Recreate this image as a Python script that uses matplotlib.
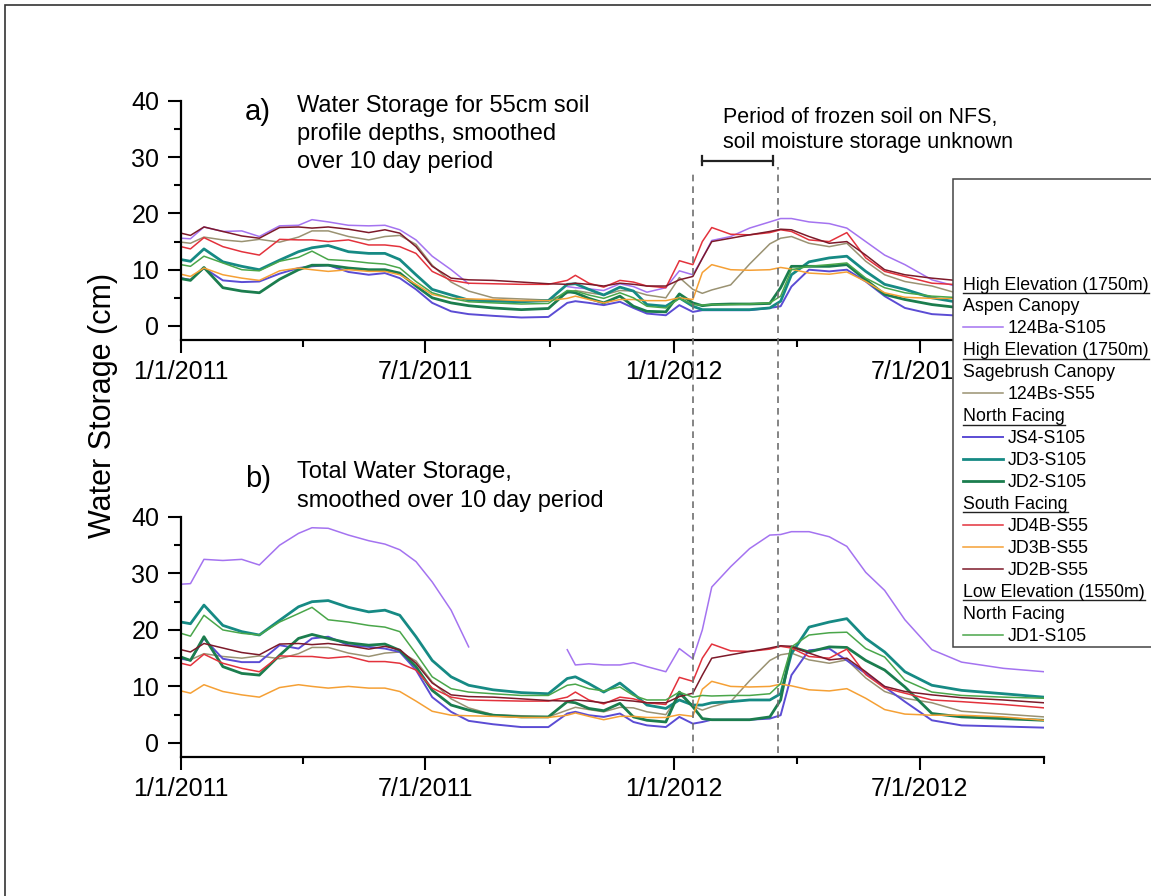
import numpy as np
import pandas as pd
import matplotlib
matplotlib.use('Agg')
import matplotlib.pyplot as plt
import matplotlib.dates as mdates
import matplotlib.transforms as mtransforms
from matplotlib.lines import Line2D
from matplotlib.patches import Rectangle

plt.rcParams['font.family'] = ['Liberation Sans', 'DejaVu Sans']

# ---- data (10 day smoothed storage in cm) ----
dates = pd.to_datetime([
    '2011-01-01', '2011-01-08', '2011-01-18', '2011-02-01', '2011-02-15', '2011-02-28',
    '2011-03-15', '2011-03-29', '2011-04-08', '2011-04-20', '2011-05-05', '2011-05-20',
    '2011-06-01', '2011-06-12', '2011-06-24', '2011-07-06', '2011-07-20', '2011-08-02',
    '2011-08-20', '2011-09-10', '2011-09-30', '2011-10-14', '2011-10-20', '2011-10-30',
    '2011-11-10', '2011-11-22', '2011-12-02', '2011-12-12', '2011-12-26', '2012-01-05',
    '2012-01-15', '2012-01-22', '2012-01-29', '2012-02-12', '2012-02-26', '2012-03-12',
    '2012-03-20', '2012-03-28', '2012-04-10', '2012-04-25', '2012-05-08', '2012-05-22',
    '2012-06-05', '2012-06-20', '2012-07-10', '2012-08-01', '2012-09-01', '2012-10-01'])
nan = np.nan

# 55 cm sensors: identical in both panels
jd4b_s55 = [14.1, 13.7, 15.7, 14.1, 13.2, 12.6, 15.4, 15.3, 15.3, 15.0, 15.3, 14.4,
            14.4, 14.1, 12.9, 9.7, 8.1, 7.6, 7.5, 7.4, 7.4, 8.1, 9.0, 7.6,
            6.9, 8.1, 7.8, 7.1, 6.8, 11.6, 10.9, 15.0, 17.5, 16.3, 16.2, 16.6,
            17.1, 16.8, 15.3, 15.0, 16.6, 12.1, 9.7, 8.8, 7.6, 7.3, 6.8, 6.2]
jd3b_s55 = [9.2, 8.8, 10.3, 9.1, 8.5, 8.1, 9.8, 10.3, 10.0, 9.7, 10.0, 9.7,
            9.7, 9.1, 7.4, 5.6, 4.9, 4.8, 4.7, 4.5, 4.5, 4.9, 5.3, 4.7,
            4.1, 4.7, 4.7, 4.5, 4.5, 5.0, 4.7, 9.5, 10.9, 10.0, 9.9, 10.0,
            10.4, 10.1, 9.4, 9.2, 9.6, 7.9, 5.9, 5.1, 4.9, 4.9, 4.6, 4.0]
jd2b_s55 = [16.5, 16.1, 17.6, 16.8, 16.0, 15.6, 17.5, 17.6, 17.4, 17.6, 17.2, 16.6,
            17.1, 16.5, 14.1, 10.6, 8.5, 8.2, 8.1, 7.8, 7.5, 7.4, 7.6, 7.4,
            7.1, 7.6, 7.4, 7.1, 7.1, 8.2, 8.8, 12.0, 15.0, 15.6, 16.2, 16.8,
            17.2, 17.1, 15.9, 14.7, 15.0, 12.6, 10.0, 9.1, 8.5, 8.0, 7.6, 7.1]
b124bs_s55 = [14.9, 14.7, 15.8, 15.3, 15.0, 15.4, 14.9, 15.8, 16.9, 16.9, 15.9, 15.3,
              15.9, 16.1, 14.5, 10.8, 7.8, 6.2, 5.0, 4.8, 4.6, 5.8, 6.3, 5.9,
              5.5, 6.3, 6.2, 5.5, 5.0, 8.6, 6.5, 5.8, 6.4, 7.3, 11.0, 14.6,
              15.6, 15.9, 14.7, 14.1, 14.7, 11.5, 9.1, 7.9, 7.1, 5.6, 5.1, 4.6]

# panel a) 105 cm sensors, 55cm profile depth
a_124ba = [15.6, 15.5, 17.6, 16.8, 16.9, 15.9, 17.8, 17.9, 18.9, 18.5, 17.9, 17.8,
           17.9, 17.1, 15.3, 12.4, 10.0, 7.5, nan, nan, nan, 7.0, 6.8, 6.6,
           6.3, 7.5, 7.0, 6.0, 6.8, 9.8, 9.1, 12.0, 15.2, 15.9, 17.4, 18.5,
           19.1, 19.1, 18.5, 18.2, 17.4, 15.0, 12.6, 10.9, 8.2, 6.8, 6.2, 5.8]
a_js4 = [8.5, 8.2, 10.3, 8.1, 7.8, 7.9, 9.3, 10.3, 10.6, 10.8, 9.6, 9.1,
         9.4, 8.5, 6.5, 4.1, 2.6, 2.1, 1.8, 1.5, 1.6, 4.1, 4.4, 4.1,
         3.7, 4.3, 3.2, 2.2, 1.9, 3.7, 2.5, 2.8, 2.8, 2.8, 2.8, 3.2,
         3.5, 7.0, 10.0, 9.7, 10.0, 7.9, 5.3, 3.2, 2.1, 1.8, 1.6, 1.5]
a_jd3 = [11.8, 11.5, 13.7, 11.4, 10.6, 10.0, 11.7, 13.2, 13.9, 14.3, 13.2, 12.9,
         12.9, 11.8, 9.1, 6.5, 5.5, 4.6, 4.4, 4.3, 4.5, 7.4, 7.5, 6.5,
         5.5, 6.9, 6.2, 3.8, 3.5, 5.0, 3.5, 2.9, 2.9, 2.9, 2.9, 3.2,
         4.4, 9.1, 11.4, 12.1, 12.4, 9.7, 7.4, 6.5, 5.0, 4.1, 3.7, 3.5]
a_jd2 = [8.4, 8.1, 10.4, 6.8, 6.2, 5.9, 8.3, 10.0, 10.8, 10.8, 10.3, 10.0,
         10.0, 9.4, 7.1, 5.0, 4.1, 3.6, 3.2, 2.9, 3.1, 6.1, 5.9, 4.9,
         4.1, 5.3, 3.5, 2.6, 2.5, 5.7, 4.1, 3.6, 3.8, 3.9, 3.9, 4.0,
         6.8, 10.6, 10.6, 10.6, 10.9, 8.2, 5.6, 4.7, 3.8, 3.2, 2.9, 2.6]
a_jd1 = [10.9, 10.6, 12.4, 11.2, 10.0, 9.8, 11.5, 12.2, 13.3, 11.8, 11.6, 11.2,
         11.0, 10.3, 7.9, 5.9, 4.9, 4.3, 4.1, 3.9, 4.0, 6.3, 6.2, 5.5,
         4.9, 5.9, 5.0, 3.5, 3.2, 4.9, 3.8, 3.7, 3.8, 3.8, 3.9, 4.1,
         5.3, 10.0, 10.6, 10.9, 11.2, 8.5, 6.8, 5.9, 5.3, 5.0, 4.8, 4.6]

# panel b) total water storage
b_124ba = [28.1, 28.2, 32.5, 32.3, 32.5, 31.5, 35.0, 37.1, 38.1, 38.0, 36.8, 35.8,
           35.2, 34.2, 32.1, 28.5, 23.5, 17.0, nan, nan, nan, 16.5, 13.8, 14.0,
           13.8, 13.8, 14.2, 13.5, 12.6, 16.7, 14.9, 20.0, 27.6, 31.2, 34.4, 36.8,
           36.9, 37.4, 37.4, 36.5, 34.8, 30.2, 27.0, 21.8, 16.5, 14.3, 13.2, 12.6]
b_js4 = [14.9, 14.6, 18.5, 14.9, 14.3, 14.3, 17.3, 16.7, 18.5, 18.8, 17.3, 17.0,
         16.7, 16.1, 12.9, 8.1, 5.5, 3.9, 3.3, 2.8, 2.8, 5.2, 5.5, 4.9,
         4.6, 5.2, 3.7, 3.1, 2.8, 4.6, 3.4, 3.7, 4.1, 4.1, 4.1, 4.3,
         4.9, 12.0, 16.4, 16.7, 14.6, 12.3, 9.9, 7.3, 4.0, 3.1, 2.9, 2.7]
b_jd3 = [21.4, 21.1, 24.4, 20.8, 19.7, 19.1, 21.7, 24.1, 25.0, 25.2, 24.0, 23.2,
         23.5, 22.6, 18.8, 14.6, 11.7, 10.2, 9.4, 8.9, 8.7, 11.4, 11.7, 10.5,
         9.0, 10.6, 8.7, 6.7, 6.1, 7.6, 6.7, 6.7, 7.1, 7.3, 7.6, 7.6,
         8.7, 15.8, 20.5, 21.4, 22.0, 18.5, 16.1, 12.6, 10.2, 9.3, 8.7, 8.1]
b_jd2 = [15.2, 14.6, 18.8, 13.5, 12.3, 12.0, 15.5, 18.5, 19.2, 18.5, 17.7, 17.3,
         17.5, 16.4, 13.5, 9.3, 6.7, 5.8, 4.9, 4.6, 4.6, 7.3, 7.1, 6.1,
         5.7, 7.0, 4.6, 4.0, 3.7, 9.0, 6.4, 4.3, 4.1, 4.1, 4.1, 4.6,
         7.6, 17.0, 16.1, 17.0, 16.9, 14.6, 12.9, 9.9, 5.2, 4.6, 4.3, 4.0]
b_jd1 = [19.4, 18.9, 22.6, 20.0, 19.4, 19.1, 21.4, 22.9, 24.0, 21.8, 21.4, 20.8,
         20.5, 19.7, 15.8, 11.7, 9.6, 9.0, 8.7, 8.4, 8.4, 10.2, 10.4, 9.6,
         9.2, 9.9, 8.4, 7.6, 7.6, 9.0, 8.1, 8.4, 8.3, 8.4, 8.4, 8.7,
         10.5, 17.0, 19.1, 19.5, 19.6, 16.7, 15.2, 11.1, 9.0, 8.4, 8.1, 7.9]

names = ['124Ba-S105', '124Bs-S55', 'JS4-S105', 'JD3-S105', 'JD2-S105',
         'JD4B-S55', 'JD3B-S55', 'JD2B-S55', 'JD1-S105']
panel_a = [a_124ba, b124bs_s55, a_js4, a_jd3, a_jd2, jd4b_s55, jd3b_s55, jd2b_s55, a_jd1]
panel_b = [b_124ba, b124bs_s55, b_js4, b_jd3, b_jd2, jd4b_s55, jd3b_s55, jd2b_s55, b_jd1]

colors = ['#a473f0', '#9a9272', '#5b4cd4', '#168a84', '#1b7d4e',
          '#e3323c', '#f5a035', '#7d1a2a', '#4aa64a']
widths = [1.1, 1.1, 1.4, 2.0, 2.0, 1.1, 1.1, 1.1, 1.1]

xtick_major = ['2011-01-01', '2011-07-01', '2012-01-01', '2012-07-01']
xtick_labels = ['1/1/2011', '7/1/2011', '1/1/2012', '7/1/2012']
xtick_minor = ['2011-04-01', '2011-10-01', '2012-04-01', '2012-10-01']

frozen = mdates.date2num(pd.to_datetime(['2012-01-15', '2012-03-18']))
bracket = mdates.date2num(pd.to_datetime(['2012-01-22', '2012-03-14']))

# ---- figure ----
W, H = 1151, 896
def fx(x):
    return x / W
def fy(y):
    return 1 - y / H

fig = plt.figure(figsize=(W / 100, H / 100), dpi=100)
ax1 = fig.add_axes([fx(181), fy(340), (1044 - 181) / W, (340 - 101) / H])
ax2 = fig.add_axes([fx(181), fy(757), (1044 - 181) / W, (757 - 517) / H])

for ax, series in ((ax1, panel_a), (ax2, panel_b)):
    for vals, c, lw in zip(series, colors, widths):
        ax.plot(dates, vals, color=c, lw=lw)
    ax.set_xlim(pd.Timestamp('2011-01-01'), pd.Timestamp('2012-10-01'))
    ax.set_ylim(-2.5, 40)
    ax.spines[['top', 'right']].set_visible(False)
    ax.spines[['left', 'bottom']].set_linewidth(1.6)
    ax.set_yticks([0, 10, 20, 30, 40])
    ax.set_yticks([5, 15, 25, 35], minor=True)
    ax.set_xticks(pd.to_datetime(xtick_major))
    ax.set_xticklabels(xtick_labels)
    ax.set_xticks(pd.to_datetime(xtick_minor), minor=True)
    ax.tick_params(which='major', length=9.5, width=1.5, labelsize=18)
    ax.tick_params(axis='y', which='major', pad=6)
    ax.tick_params(axis='x', which='major', pad=5)
    ax.tick_params(which='minor', length=5, width=1.5)
    ax.patch.set_alpha(0)

# frozen period: dashed lines across both panels and bracket
trans = mtransforms.blended_transform_factory(ax2.transData, fig.transFigure)
for d, top in zip(frozen, (170, 167)):
    fig.add_artist(Line2D([d, d], [fy(753), fy(top)], transform=trans,
                          color='#707070', lw=1.2, ls=(0, (4, 3))))
fig.add_artist(Line2D(bracket, [fy(160.7)] * 2, transform=trans, color='#222222', lw=1.6))
for d in bracket:
    fig.add_artist(Line2D([d, d], [fy(156.5), fy(165)], transform=trans, color='#222222', lw=1.6))

fig.text(fx(723), fy(123.3), 'Period of frozen soil on NFS,', fontsize=15.5)
fig.text(fx(723), fy(148.3), 'soil moisture storage unknown', fontsize=15.5)

# panel captions
fig.text(fx(245), fy(120), 'a)', fontsize=21)
for i, s in enumerate(['Water Storage for 55cm soil', 'profile depths, smoothed',
                       'over 10 day period']):
    fig.text(fx(297), fy(111.7 + 28.3 * i), s, fontsize=17)
fig.text(fx(245), fy(487), 'b)', fontsize=21)
for i, s in enumerate(['Total Water Storage,', 'smoothed over 10 day period']):
    fig.text(fx(297), fy(478.3 + 28.3 * i), s, fontsize=17)

fig.text(fx(103), fy(405), 'Water Storage (cm)', rotation=90, ha='center',
         va='center', fontsize=22)

# ---- legend box drawn by hand (grouped headers) ----
fig.add_artist(Rectangle((fx(953), fy(647)), (1175 - 953) / W, (647 - 179) / H,
                         transform=fig.transFigure, facecolor='white',
                         edgecolor='#444444', lw=1.1, zorder=5))
rows = [('h', 'High Elevation (1750m)', True), ('h', 'Aspen Canopy', False), ('e', 0),
        ('h', 'High Elevation (1750m)', True), ('h', 'Sagebrush Canopy', False), ('e', 1),
        ('h', 'North Facing', True), ('e', 2), ('e', 3), ('e', 4),
        ('h', 'South Facing', True), ('e', 5), ('e', 6), ('e', 7),
        ('h', 'Low Elevation (1550m)', True), ('h', 'North Facing', False), ('e', 8)]
renderer = fig.canvas.get_renderer()
for i, row in enumerate(rows):
    yc = 283.3 + 21.98 * i
    base = yc + 6.2
    if row[0] == 'h':
        t = fig.text(fx(963), fy(base), row[1], fontsize=12.8, zorder=6)
        if row[2]:
            bb = t.get_window_extent(renderer)
            fig.add_artist(Line2D([bb.x0 / W, bb.x1 / W], [fy(base + 3.2)] * 2,
                                  transform=fig.transFigure, color='#222222',
                                  lw=1.0, zorder=6))
    else:
        k = row[1]
        fig.add_artist(Line2D([fx(963), fx(1003)], [fy(yc)] * 2, transform=fig.transFigure,
                              color=colors[k], lw=widths[k], zorder=6))
        fig.text(fx(1008), fy(base), names[k], fontsize=12.8, zorder=6)

# outer frame (only left and top edges fall inside the picture)
fig.add_artist(Rectangle((fx(5), fy(920)), (1170 - 5) / W, (920 - 5) / H,
                         transform=fig.transFigure, fill=False, edgecolor='#333333',
                         lw=1.2, zorder=7))

fig.savefig('out.png', dpi=100)
